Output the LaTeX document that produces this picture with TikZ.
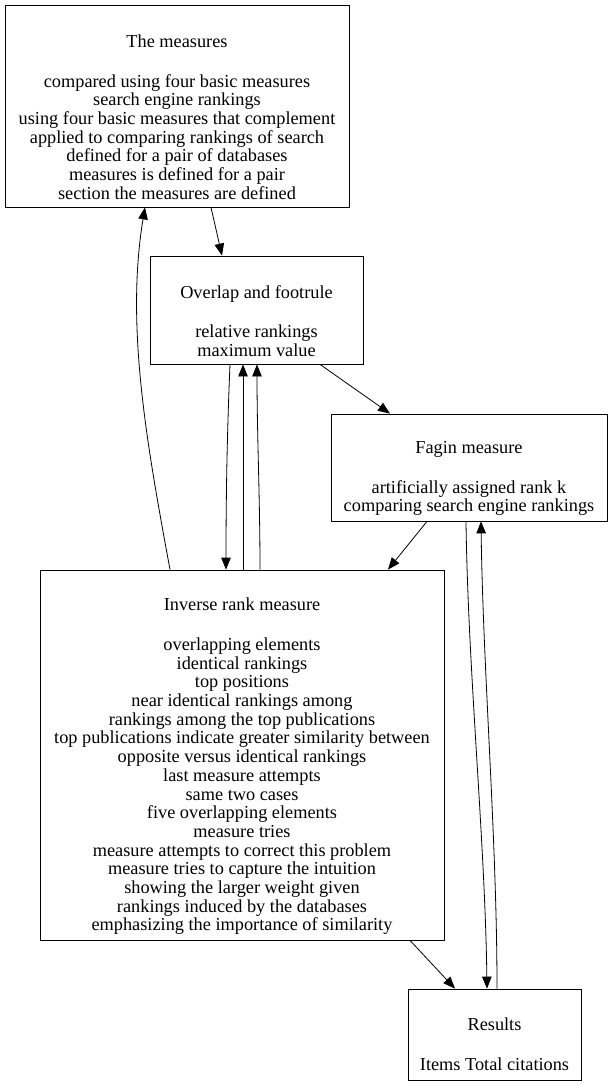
\documentclass[tikz,border=0pt]{standalone}
\usepackage{fontspec}
\setmainfont{Liberation Serif}
\usetikzlibrary{arrows.meta}
\begin{document}
\begin{tikzpicture}[x=1pt,y=1pt,
  box/.style={draw, line width=0.8pt, rectangle, inner sep=0pt},
  txt/.style={inner sep=0pt, align=center, font=\fontsize{18.3}{18.7}\selectfont},
  edge/.style={line width=0.8pt, -{Triangle[length=12pt,width=9.5pt]}}]
\useasboundingbox (0,0) rectangle (613,-1085);
\node[box, minimum width=344, minimum height=202] (m) at (177,-106) {};
\node[box, minimum width=213, minimum height=108] (o) at (256.5,-310) {};
\node[box, minimum width=276, minimum height=107] (f) at (469,-467.5) {};
\node[box, minimum width=404, minimum height=370] (i) at (242,-755) {};
\node[box, minimum width=173, minimum height=91] (r) at (494.5,-1034.5) {};
\node[txt] (mt) at ([yshift=-11pt]m.center) {The measures\\[21pt]compared using four basic measures\\search engine rankings\\using four basic measures that complement\\applied to comparing rankings of search\\defined for a pair of databases\\measures is defined for a pair\\section the measures are defined};
\node[txt] (ot) at ([yshift=-11pt]o.center) {Overlap and footrule\\[21pt]relative rankings\\maximum value};
\node[txt] (ft) at ([yshift=-11pt]f.center) {Fagin measure\\[21pt]artificially assigned rank k\\comparing search engine rankings};
\node[txt] (it) at ([yshift=-11.5pt]i.center) {Inverse rank measure\\[21pt]overlapping elements\\identical rankings\\top positions\\near identical rankings among\\rankings among the top publications\\top publications indicate greater similarity between\\opposite versus identical rankings\\last measure attempts\\same two cases\\five overlapping elements\\measure tries\\measure attempts to correct this problem\\measure tries to capture the intuition\\showing the larger weight given\\rankings induced by the databases\\emphasizing the importance of similarity};
\node[txt] (rt) at ([yshift=-10pt]r.center) {Results\\[21pt]Items Total citations};
\draw[edge] ([xshift=34pt]m.south) -- ([xshift=-34.5pt]o.north);
\draw[edge] ([xshift=63.5pt]o.south) -- ([xshift=-79pt]f.north);
\draw[edge] ([xshift=-42pt]f.south) -- ([xshift=146pt]i.north);
\draw[edge] ([xshift=-72pt]i.north) .. controls +(-22,120) and +(-20,-120) .. ([xshift=-32pt]m.south);
\draw[edge] ([xshift=-26.5pt]o.south) .. controls +(-3,-70) and +(0,70) .. ([xshift=-16pt]i.north);
\draw[edge] ([xshift=1pt]i.north) -- ([xshift=-13.5pt]o.south);
\draw[edge] ([xshift=18pt]i.north) .. controls +(0,70) and +(0,-70) .. ([xshift=0.5pt]o.south);
\draw[edge] ([xshift=-3pt]f.south) .. controls +(2,-150) and +(-2,150) .. ([xshift=-7.5pt]r.north);
\draw[edge] ([xshift=2.5pt]r.north) .. controls +(0,150) and +(2,-150) .. ([xshift=12pt]f.south);
\draw[edge] ([xshift=168pt]i.south) -- ([xshift=-39.5pt]r.north);
\end{tikzpicture}
\end{document}
